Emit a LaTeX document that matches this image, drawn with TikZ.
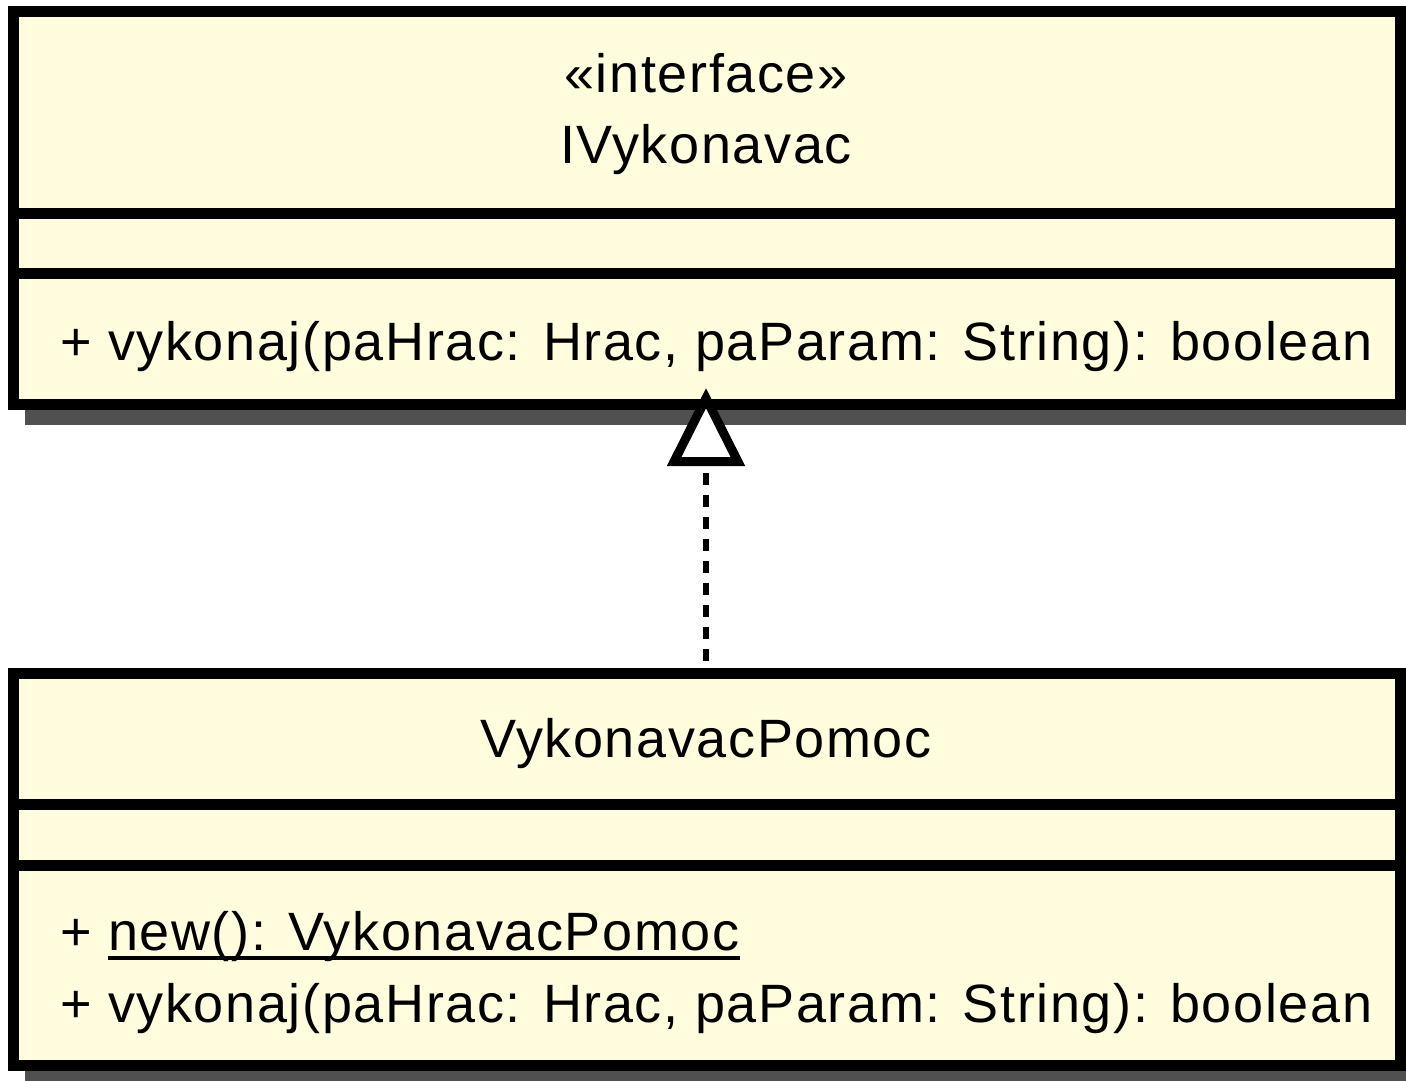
\documentclass[tikz,border=0pt]{standalone}
\usepackage{fontspec}
\setmainfont{Liberation Sans}[LetterSpace=3]
\usetikzlibrary{arrows.meta,shadows}

\definecolor{classfill}{RGB}{255,253,221}
\definecolor{shadowgray}{RGB}{80,80,80}

\tikzset{
  classbox/.style={draw=black, line width=11pt, fill=classfill,
    minimum width=1387pt, inner sep=0pt, outer sep=0pt,
    drop shadow={shadow xshift=11.5pt, shadow yshift=-21pt,
      fill=shadowgray, opacity=1}},
  divider/.style={draw=black, line width=11pt},
  umltext/.style={inner sep=0pt, outer sep=0pt, font=\fontsize{54}{60}\selectfont},
  realize/.style={draw=black, line width=6pt, dash pattern=on 12pt off 10pt,
    dash phase=9pt,
    -{Triangle[length=78pt, width=76pt, line width=9pt, fill=white]}},
}

\begin{document}
\begin{tikzpicture}[x=1pt, y=-1pt]
  \useasboundingbox (0,0) rectangle (1406,1080);

  % interface IVykonavac
  \node[classbox, minimum height=392.5pt] (iface) at (707,207.75) {};
  \draw[divider] (iface.west |- 0,213) -- (iface.east |- 0,213);
  \draw[divider] (iface.west |- 0,273) -- (iface.east |- 0,273);
  \node[umltext, anchor=base] (stereo) at (706,92) {«interface»};
  \node[umltext, anchor=base] (ifname) at (706,163) {IVykonavac};
  \node[umltext, anchor=base west] (ifop) at (60,360)
    {+ vykonaj(paHrac: Hrac, paParam: String): boolean};

  % class VykonavacPomoc
  \node[classbox, minimum height=392pt] (impl) at (707,869.5) {};
  \draw[divider] (impl.west |- 0,804) -- (impl.east |- 0,804);
  \draw[divider] (impl.west |- 0,865) -- (impl.east |- 0,865);
  \node[umltext, anchor=base] (clname) at (706,757) {VykonavacPomoc};
  \node[umltext, anchor=base west] (plus) at (60,950) {+};
  \node[umltext, anchor=base west] (ctor) at (108,950) {new(): VykonavacPomoc};
  \draw[line width=4.5pt] ([yshift=-8pt]ctor.base west) -- ([yshift=-8pt]ctor.base east);
  \node[umltext, anchor=base west] (clop) at (60,1022)
    {+ vykonaj(paHrac: Hrac, paParam: String): boolean};

  % realization
  \draw[realize] (impl.north -| 706,0) -- ([yshift=16pt]iface.south -| 706,0);
\end{tikzpicture}
\end{document}
